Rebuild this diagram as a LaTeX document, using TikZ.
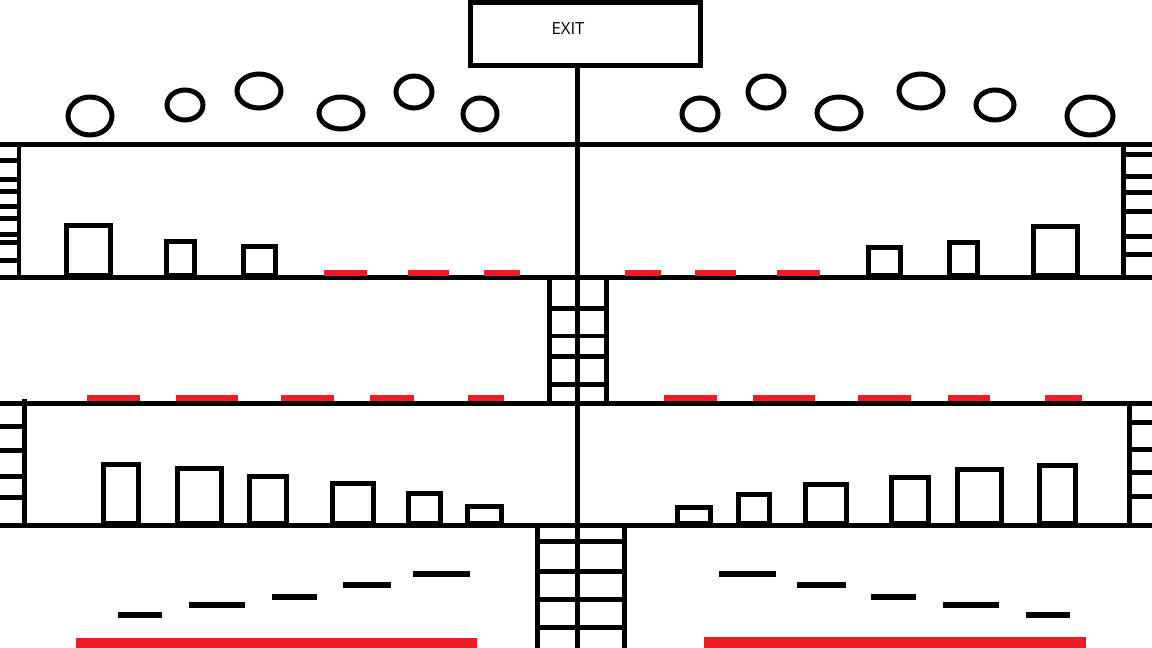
\documentclass[tikz,border=0pt]{standalone}
\usepackage{fontspec}
\usepackage{tikz}
\usepackage{xcolor}
\usetikzlibrary{positioning,calc}
\newfontfamily\signfont{Open Sans}
\definecolor{paintred}{RGB}{237,28,36}

\begin{document}
\begin{tikzpicture}[
    x=0.02cm, y=-0.02cm,
    wall/.style={draw, line width=0.1cm},
    exitbox/.style={draw, line width=0.1cm, minimum width=4.6cm, minimum height=1.26cm, inner sep=0pt},
    crate/.style={draw, line width=0.1cm},
    seat/.style={draw, line width=0.1cm},
    redmark/.style={fill=paintred},
    stepmark/.style={fill=black}
  ]
    \useasboundingbox[fill=white] (0,0) rectangle (1152,648);

    % exit sign and the main shaft
    \node[exitbox] (exit) at (585.5,34) {};
    \node[font=\signfont\fontsize{9.5}{11}\selectfont] (exitlabel) at (568,29) {EXIT};
    \coordinate (ground) at (577,648);
    \draw[wall] (exit.south -| ground) -- (ground);

    % floors
    \foreach \y in {145,278,403,525}
      \draw[wall] (0,\y) -- (1152,\y);

    % side walls with ladders
    \draw[wall] (19,145) -- (19,278);
    \draw[wall] (1123,145) -- (1123,278);
    \draw[wall] (24,399) -- (24,525);
    \draw[wall] (1129,403) -- (1129,525);
    \foreach \y in {161,180,192,207,219,235,243,261}
      \draw[wall] (0,\y) -- (19,\y);
    \foreach \y in {155,177,193,212,237,255}
      \draw[wall] (1123,\y) -- (1152,\y);
    \foreach \y in {426,450,476,497}
      \draw[wall] (0,\y) -- (24,\y);
    \foreach \y in {422,449,472,496}
      \draw[wall] (1129,\y) -- (1152,\y);

    % middle ladders
    \draw[wall] (549,278) -- (549,403);
    \draw[wall] (606,278) -- (606,403);
    \foreach \y in {309,336,356,384}
      \draw[wall] (549,\y) -- (606,\y);
    \draw[wall] (537,525) -- (537,648);
    \draw[wall] (624,525) -- (624,648);
    \foreach \y in {541,571,599,627}
      \draw[wall] (537,\y) -- (624,\y);

    % people waiting on the roof
    \foreach \cx/\cy/\rx/\ry in {90/116/22/19, 185/105/18/15, 259/91/22/17, 341/113/22/16,
        414/92/18/16, 480/114/17/16, 700/114/18/16, 766/92/18/16, 839/113/22/16,
        921/91/22/17, 995/105/19/15, 1090/116/23/19}
      \draw[seat] (\cx,\cy) ellipse [x radius=\rx, y radius=\ry];

    % boxes on the upper floor
    \foreach \xa/\xb/\yt in {66.5/110/225.5, 166.5/194.5/241.5, 243.5/275.5/246.5,
        868.5/900.5/247.5, 949.5/977.5/242.5, 1033.5/1077.5/226.5}
      \draw[crate] (\xa,\yt) rectangle (\xb,276);

    % boxes on the lower floor
    \foreach \xa/\xb/\yt in {103.5/138.5/464.5, 177.5/221.5/468.5, 249.5/286.5/476.5,
        332.5/373.5/483.5, 408.5/440.5/493.5, 467.5/501.5/506.5,
        677.5/710.5/507.5, 738.5/769.5/494.5, 805.5/846.5/484.5,
        891.5/928.5/477.5, 957.5/1001.5/469.5, 1039.5/1075.5/465.5}
      \draw[crate] (\xa,\yt) rectangle (\xb,523);

    % red marks
    \foreach \xa/\xb in {324/367, 408/449, 484/520, 625/661, 695/736, 777/820}
      \fill[redmark] (\xa,270) rectangle (\xb,276);
    \foreach \xa/\xb in {87/140, 176/238, 281/334, 370/414, 468/504,
        664/717, 753/815, 858/911, 948/990, 1045/1082}
      \fill[redmark] (\xa,395) rectangle (\xb,401);
    \fill[redmark] (76,638) rectangle (477,648);
    \fill[redmark] (704,637) rectangle (1086,648);

    % steps at the bottom
    \foreach \xa/\xb/\yt in {118/162/612, 189/245/602, 272/317/594, 343/391/582, 413/470/571,
        719/776/571, 797/846/582, 871/916/594, 943/999/602, 1026/1070/612}
      \fill[stepmark] (\xa,\yt) rectangle (\xb,\yt+6);
  \end{tikzpicture}
\end{document}
